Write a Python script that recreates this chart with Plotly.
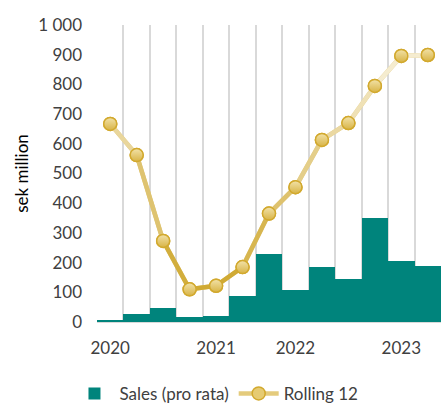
import plotly.graph_objects as go

periods = list(range(13))
sales = [8, 27, 47, 18, 20, 88, 229, 107, 184, 146, 350, 204, 187]
rolling12 = [667, 562, 273, 110, 122, 185, 365, 454, 613, 670, 795, 896, 899]
year_tick_pos = [0, 4, 7, 11]
year_tick_text = ["2020", "2021", "2022", "2023"]
y_ticks = [0, 100, 200, 300, 400, 500, 600, 700, 800, 900, 1000]
y_tick_text = ["0", "100", "200", "300", "400", "500", "600", "700", "800", "900", "1 000"]

FONT = "Lato"
dark = (208, 170, 52)
pale = (245, 236, 208)


def seg_color(v):
    t = (v - 150) / 700.0
    t = max(0.0, min(1.0, t))
    c = [round(dark[i] + (pale[i] - dark[i]) * t) for i in range(3)]
    return "rgb(%d,%d,%d)" % tuple(c)


fig = go.Figure()
fig.add_trace(go.Bar(
    x=periods, y=sales, name="Sales (pro rata)",
    marker=dict(color="#00847C", line=dict(width=0)),
))
fig.add_trace(go.Scatter(
    x=periods, y=rolling12, name="Rolling 12", mode="lines+markers",
    line=dict(color="#E4CB7C", width=4.5),
    marker=dict(size=13, color="#E6CB72", line=dict(color="#D2A92E", width=1.5)),
))
for i in range(len(periods) - 1):
    fig.add_trace(go.Scatter(
        x=periods[i:i + 2], y=rolling12[i:i + 2], mode="lines",
        line=dict(color=seg_color((rolling12[i] + rolling12[i + 1]) / 2), width=4.5),
        showlegend=False, hoverinfo="skip",
    ))
fig.add_trace(go.Scatter(
    x=periods, y=rolling12, mode="markers", showlegend=False,
    marker=dict(size=13, color="#F2E2A8",
                gradient=dict(type="vertical", color="#D8B446"),
                line=dict(color="#D2A92E", width=1.5)),
))

fig.update_layout(
    width=441, height=405,
    margin=dict(l=97, r=0, t=25, b=83, autoexpand=False),
    plot_bgcolor="white", paper_bgcolor="white",
    bargap=0,
    font=dict(family=FONT, size=17, color="#404040"),
    legend=dict(orientation="h", x=-0.08, xanchor="left", y=-0.242, yanchor="middle",
                font=dict(family=FONT, size=17, color="#404040"),
                itemwidth=40, tracegroupgap=0),
    xaxis=dict(
        range=[-0.5, 12.5], tickvals=year_tick_pos, ticktext=year_tick_text,
        showgrid=False, zeroline=False, showline=False, ticks="", ticklabelstandoff=14,
        automargin=False,
        minor=dict(tickvals=[p - 0.5 for p in periods] + [12.5], showgrid=True,
                   gridcolor="#D9D9D9", gridwidth=2, ticks=""),
    ),
    yaxis=dict(
        range=[0, 1000], tickvals=y_ticks, ticktext=y_tick_text,
        showgrid=False, zeroline=True, zerolinecolor="#D9D9D9", zerolinewidth=2,
        showline=False, ticks="", ticklabelstandoff=14, automargin=False,
        title=dict(text="sek million", font=dict(family=FONT, size=17, color="#000000"), standoff=5),
    ),
)

fig.write_html("out.html", config={"displayModeBar": False})
with open("out.html", "r", encoding="utf-8") as f:
    html = f.read()
html = html.replace("<head>", "<head><style>html,body{margin:0;padding:0;overflow:hidden;}</style>", 1)
with open("out.html", "w", encoding="utf-8") as f:
    f.write(html)
